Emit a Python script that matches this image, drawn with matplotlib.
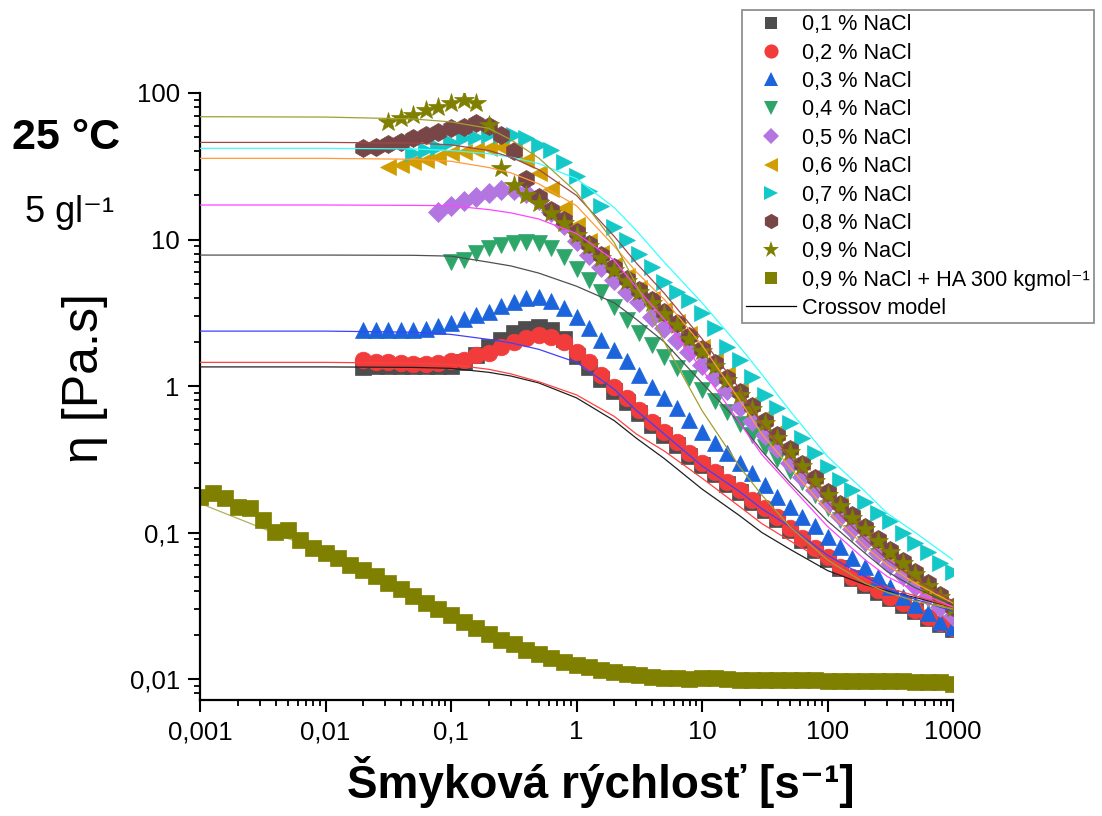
import numpy as np
import matplotlib
matplotlib.use('Agg')
import matplotlib.pyplot as plt
from matplotlib.lines import Line2D
from matplotlib.ticker import FixedLocator, FixedFormatter, LogLocator, NullFormatter

plt.rcParams['font.family'] = ['Liberation Sans', 'DejaVu Sans']

# shear rate grid, 10 points per decade, all series end at 1000 1/s
SHEAR_RATE = [0.001, 0.00126, 0.00158, 0.002, 0.00251, 0.00316, 0.00398, 0.00501, 0.00631, 0.00794,
              0.01, 0.0126, 0.0158, 0.02, 0.0251, 0.0316, 0.0398, 0.0501, 0.0631, 0.0794,
              0.1, 0.126, 0.158, 0.2, 0.251, 0.316, 0.398, 0.501, 0.631, 0.794,
              1, 1.26, 1.58, 2, 2.51, 3.16, 3.98, 5.01, 6.31, 7.94,
              10, 12.6, 15.8, 20, 25.1, 31.6, 39.8, 50.1, 63.1, 79.4,
              100, 126, 158, 200, 251, 316, 398, 501, 631, 794, 1000]

LABELS = ['0,1 % NaCl', '0,2 % NaCl', '0,3 % NaCl', '0,4 % NaCl', '0,5 % NaCl',
          '0,6 % NaCl', '0,7 % NaCl', '0,8 % NaCl', '0,9 % NaCl',
          '0,9 % NaCl + HA 300 kgmol⁻¹']

eta_01 = [1.35, 1.36, 1.36, 1.36, 1.36, 1.37, 1.37, 1.38, 1.45, 1.62,
          1.85, 2.05, 2.30, 2.45, 2.52, 2.42, 2.10, 1.60, 1.35, 1.12,
          0.93, 0.78, 0.65, 0.54, 0.46, 0.395, 0.335, 0.288, 0.25, 0.214,
          0.188, 0.161, 0.142, 0.124, 0.104, 0.089, 0.076, 0.066, 0.057, 0.049,
          0.044, 0.0395, 0.0355, 0.0322, 0.029, 0.026, 0.0238, 0.022]
eta_02 = [1.50, 1.46, 1.46, 1.43, 1.41, 1.41, 1.43, 1.48, 1.50, 1.62,
          1.69, 1.85, 2.00, 2.13, 2.23, 2.16, 2.00, 1.71, 1.45, 1.19,
          0.985, 0.828, 0.686, 0.568, 0.485, 0.415, 0.349, 0.298, 0.259, 0.221,
          0.195, 0.167, 0.147, 0.128, 0.107, 0.0917, 0.0784, 0.068, 0.0582, 0.0497,
          0.0452, 0.0405, 0.0363, 0.033, 0.0296, 0.0265, 0.0241, 0.0223]
eta_03 = [2.42, 2.42, 2.42, 2.42, 2.43, 2.45, 2.55, 2.68, 2.85, 3.05,
          3.22, 3.51, 3.76, 3.96, 4.06, 3.82, 3.39, 2.97, 2.48, 2.06,
          1.76, 1.47, 1.19, 0.99, 0.824, 0.705, 0.586, 0.488, 0.406, 0.347,
          0.297, 0.253, 0.211, 0.175, 0.150, 0.128, 0.110, 0.0936, 0.080, 0.067,
          0.0585, 0.0499, 0.0427, 0.0365, 0.032, 0.0281, 0.0246, 0.0226]
eta_04 = [7.05, 7.24, 8.09, 8.75, 9.17, 9.47, 9.62, 9.47, 8.75, 7.6,
          6.3, 5.25, 4.35, 3.48, 2.82, 2.29, 1.91, 1.59, 1.32, 1.13,
          0.94, 0.79, 0.66, 0.55, 0.46, 0.385, 0.32, 0.265, 0.22, 0.18,
          0.148, 0.122, 0.10, 0.083, 0.069, 0.058, 0.049, 0.041, 0.035, 0.030, 0.026]
eta_05 = [15.4, 16.9, 18.3, 19.5, 20.8, 21.8, 21.9, 20.8, 18.5, 15.5,
          12.6, 9.7, 7.8, 6.5, 5.3, 4.41, 3.76, 2.97, 2.48, 2.06,
          1.71, 1.39, 1.16, 0.94, 0.72, 0.58, 0.465, 0.375, 0.30, 0.24,
          0.195, 0.158, 0.129, 0.106, 0.088, 0.073, 0.061, 0.051, 0.043, 0.037, 0.031, 0.027]
eta_06 = [31.4, 32.3, 34.0, 34.9, 36.8, 38.8, 39.7, 40.8, 41.9, 43.0,
          40.0, 35.0, 28.3, 22.0, 16.5, 12.5, 9.8, 8.1, 6.7, 5.6,
          4.7, 3.95, 3.3, 2.75, 2.25, 1.85, 1.5, 1.2, 0.96, 0.77,
          0.61, 0.485, 0.385, 0.305, 0.242, 0.193, 0.155, 0.126, 0.103, 0.085,
          0.07, 0.058, 0.048, 0.04, 0.034, 0.029]
eta_07 = [38.7, 40.8, 43.0, 46.5, 49.1, 50.4, 51.7, 51.7, 51.7, 49.1,
          44.2, 40.8, 34.0, 27.0, 21.5, 17.0, 12.2, 9.9, 8.0, 6.5,
          5.15, 4.40, 3.87, 3.13, 2.48, 1.85, 1.50, 1.16, 0.869, 0.705,
          0.556, 0.44, 0.347, 0.281, 0.228, 0.195, 0.162, 0.135, 0.119, 0.0987,
          0.0843, 0.074, 0.0616, 0.054]
eta_08 = [41.9, 43.0, 44.6, 46.5, 49.1, 51.7, 54.4, 57.4, 58.9, 62.1,
          60.0, 52.0, 40.0, 26.0, 19.5, 16.0, 13.5, 11.3, 9.3, 7.8,
          6.45, 5.4, 4.55, 3.85, 3.2, 2.7, 2.2, 1.78, 1.43, 1.14,
          0.91, 0.73, 0.58, 0.46, 0.37, 0.295, 0.235, 0.188, 0.157, 0.131,
          0.109, 0.091, 0.076, 0.064, 0.054, 0.045, 0.0375, 0.0312]
eta_09 = [63.7, 67.1, 70.8, 76.5, 80.6, 85.1, 89.6, 85.1, 60.5, 30.6,
          23.5, 20.1, 17.7, 15.1, 12.9, 10.8, 9.0, 7.5, 6.2, 5.2,
          4.4, 3.7, 3.1, 2.6, 2.1, 1.72, 1.37, 1.10, 0.875, 0.70,
          0.557, 0.445, 0.355, 0.283, 0.226, 0.18, 0.151, 0.126, 0.105, 0.088,
          0.074, 0.062, 0.052, 0.0433, 0.0362, 0.0303]
eta_ha = [0.175, 0.186, 0.172, 0.149, 0.147, 0.122, 0.101, 0.104, 0.0889, 0.0784,
          0.0725, 0.067, 0.060, 0.0555, 0.0505, 0.0452, 0.0411, 0.0369, 0.033, 0.0301,
          0.0274, 0.0245, 0.0223, 0.0203, 0.0185, 0.0173, 0.0158, 0.0148, 0.0139, 0.0131,
          0.0125, 0.0121, 0.0115, 0.0112, 0.0109, 0.0106, 0.0104, 0.0102, 0.0101, 0.0100,
          0.0101, 0.0101, 0.0100, 0.0099, 0.0098, 0.0098, 0.0098, 0.0098, 0.0098, 0.0098,
          0.0097, 0.0097, 0.0097, 0.0097, 0.0097, 0.0097, 0.0097, 0.0096, 0.0096, 0.0095, 0.0093]
ETA = [eta_01, eta_02, eta_03, eta_04, eta_05, eta_06, eta_07, eta_08, eta_09, eta_ha]

# Cross model curves
FIT_X = [0.001, 0.01, 0.05, 0.1, 0.2, 0.3, 0.5, 1, 2, 3, 5, 10, 20, 30, 50, 100, 200, 300, 500, 1000]
fit_01 = [1.35, 1.35, 1.34, 1.32, 1.24, 1.17, 1.05, 0.83, 0.58, 0.44, 0.32, 0.198, 0.13, 0.10, 0.077, 0.055, 0.044, 0.040, 0.036, 0.031]
fit_02 = [1.45, 1.45, 1.43, 1.40, 1.30, 1.21, 1.07, 0.87, 0.62, 0.47, 0.36, 0.235, 0.15, 0.115, 0.088, 0.062, 0.048, 0.042, 0.037, 0.031]
fit_03 = [2.37, 2.37, 2.33, 2.25, 2.08, 1.97, 1.78, 1.45, 0.95, 0.68, 0.47, 0.285, 0.19, 0.145, 0.11, 0.07, 0.05, 0.041, 0.035, 0.029]
fit_04 = [7.83, 7.83, 7.8, 7.7, 7.0, 6.6, 5.9, 4.8, 3.7, 2.85, 2.0, 1.05, 0.56, 0.36, 0.22, 0.12, 0.072, 0.054, 0.042, 0.032]
fit_05 = [17.2, 17.2, 17.1, 17.0, 16.0, 15.2, 13.8, 11.0, 7.2, 4.7, 2.85, 1.3, 0.56, 0.34, 0.21, 0.11, 0.065, 0.05, 0.04, 0.031]
fit_06 = [35.8, 35.8, 35.3, 34.2, 31.0, 28.5, 24.0, 17.0, 9.0, 6.0, 3.9, 1.9, 0.8, 0.47, 0.28, 0.14, 0.08, 0.06, 0.045, 0.033]
fit_07 = [41.9, 41.9, 41.5, 40.5, 38.5, 36.5, 33.0, 26.0, 16.5, 11.5, 7.0, 3.7, 1.85, 1.2, 0.68, 0.33, 0.19, 0.135, 0.1, 0.065]
fit_08 = [46.0, 46.0, 45.5, 44.3, 40.5, 36.5, 30.0, 20.0, 10.5, 6.9, 4.3, 2.1, 0.95, 0.55, 0.33, 0.16, 0.09, 0.065, 0.048, 0.034]
fit_09 = [68.9, 68.5, 66.5, 63.5, 57.4, 48.0, 36.0, 21.0, 9.5, 4.9, 2.0, 0.68, 0.28, 0.18, 0.11, 0.065, 0.045, 0.039, 0.034, 0.03]
fit_ha = [0.158, 0.072, 0.037, 0.0274, 0.0203, 0.0173, 0.0148, 0.0125, 0.0112, 0.0106, 0.0102, 0.0100, 0.0099, 0.0098, 0.0098, 0.0097, 0.0097, 0.0097, 0.0096, 0.0095]
FITS = [fit_01, fit_02, fit_03, fit_04, fit_05, fit_06, fit_07, fit_08, fit_09, fit_ha]

MARKERS = ['s', 'o', '^', 'v', 'D', '<', '>', 'h', '*', 's']
MSIZE = [11, 12, 12, 12, 10, 12, 12, 13, 15, 11]
COLORS = ['#4d4d4d', '#f23c3c', '#1c64dc', '#2ea66a', '#b376e0', '#d19d00', '#14c8c8', '#784646', '#7f7f00', '#7f7f00']
FIT_COLORS = ['#202020', '#ff4040', '#4040ff', '#505050', '#ff44ff', '#ff9a3c', '#38ffff', '#a04848', '#a0a030', '#b0b060']

XTICKS = [0.001, 0.01, 0.1, 1, 10, 100, 1000]
XTICKLABELS = ['0,001', '0,01', '0,1', '1', '10', '100', '1000']
YTICKS = [0.01, 0.1, 1, 10, 100]
YTICKLABELS = ['0,01', '0,1', '1', '10', '100']

fig = plt.figure(figsize=(11.02, 8.16), dpi=100)
ax = fig.add_axes([200/1102, 116/816, 753/1102, 607/816])
ax.set_xscale('log'); ax.set_yscale('log')

for i, eta in enumerate(ETA):
    x = SHEAR_RATE[-len(eta):]
    ax.plot(x, eta, ls='none', marker=MARKERS[i], ms=MSIZE[i], color=COLORS[i],
            mec=COLORS[i], mew=0.5, zorder=2 + i * 0.01)
for i, f in enumerate(FITS):
    # the HA fit sits under its own squares, the others are drawn over the points
    ax.plot(FIT_X, f, color=FIT_COLORS[i], lw=0.9, zorder=1.5 if i == 9 else 3)

ax.set_xlim(0.001, 1000)
ax.set_ylim(0.00719, 100)
for s in ['top', 'right']:
    ax.spines[s].set_visible(False)
for s in ['left', 'bottom']:
    ax.spines[s].set_linewidth(1.6)
ax.xaxis.set_major_locator(FixedLocator(XTICKS))
ax.xaxis.set_major_formatter(FixedFormatter(XTICKLABELS))
ax.yaxis.set_major_locator(FixedLocator(YTICKS))
ax.yaxis.set_major_formatter(FixedFormatter(YTICKLABELS))
ax.xaxis.set_minor_locator(LogLocator(base=10, subs=np.arange(2, 10), numticks=20))
ax.yaxis.set_minor_locator(LogLocator(base=10, subs=np.arange(2, 10), numticks=20))
ax.xaxis.set_minor_formatter(NullFormatter()); ax.yaxis.set_minor_formatter(NullFormatter())
ax.tick_params(which='major', direction='out', length=8.5, width=1.5, labelsize=18.5, pad=6)
ax.tick_params(which='minor', direction='out', length=4.3, width=1.3)

fig.text(601/1102, 1 - 782/816, 'Šmyková rýchlosť [s⁻¹]', fontsize=33, fontweight='bold',
         ha='center', va='center')
fig.text(85/1102, 1 - 378/816, 'η [Pa.s]', fontsize=36, rotation=90, ha='center', va='center')
fig.text(12/1102, 1 - 138/816, '25 °C', fontsize=31, fontweight='bold', ha='left', va='center')
fig.text(25/1102, 1 - 212/816, '5 gl⁻¹', fontsize=26, ha='left', va='center')

model_handle = Line2D([], [], color='black', lw=0.9)
leg_handles = []
for i in range(len(ETA)):
    leg_handles.append(Line2D([], [], ls='none', marker=MARKERS[i], ms=MSIZE[i] * 0.85, color=COLORS[i], mew=0))
leg = fig.legend(leg_handles + [model_handle], LABELS + ['Crossov model'], loc='upper left',
                 bbox_to_anchor=(742/1102, 1 - 10/816), fontsize=15.6, frameon=True, fancybox=False,
                 edgecolor='#909090', framealpha=1, handlelength=2.3, handletextpad=0.28,
                 labelspacing=0.34, borderpad=0.2, borderaxespad=0)
leg.get_frame().set_linewidth(1.3)

fig.savefig('out.png', dpi=100)
